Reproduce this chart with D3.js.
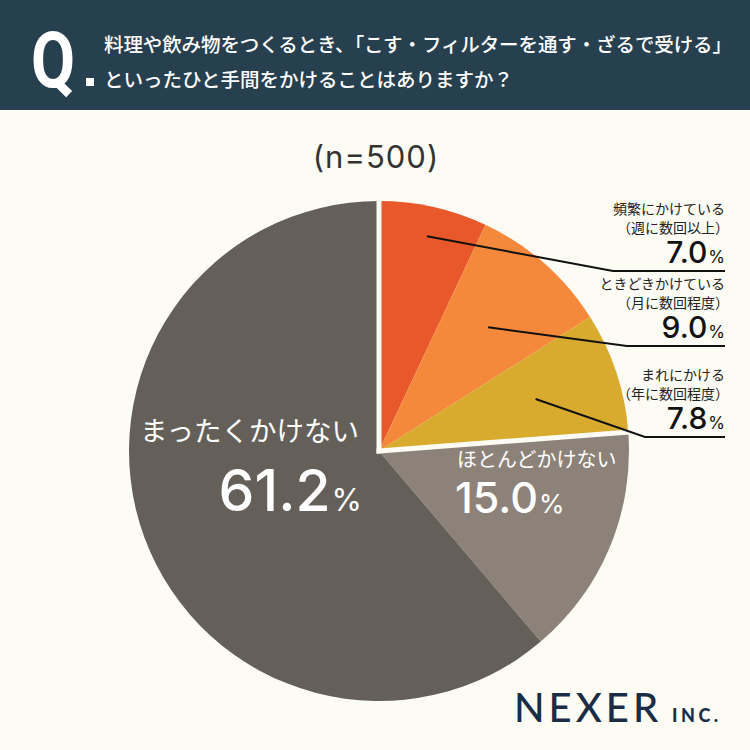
<!DOCTYPE html>
<html>
<head>
<meta charset="utf-8">
<script src="https://cdn.jsdelivr.net/npm/d3@7"></script>
<style>
  body { margin: 0; background: #fdfcf4; }
  svg { display: block; }
</style>
</head>
<body>
<div class="display"></div>
<script>
// Survey pie: how often people strain / filter when cooking

const WIDTH = 750;
const HEIGHT = 750;
const HEADER_HEIGHT = 110;
const CX = 379; // pie centre
const CY = 451;
const RADIUS = 250;

const JP_FONT = '"Noto Sans CJK JP", "Noto Sans", sans-serif';
const NUM_FONT = 'Inter, Lato, "Noto Sans", sans-serif';

// Data
const categories = ['頻繁にかけている', 'ときどきかけている', 'まれにかける', 'ほとんどかけない', 'まったくかけない'];
const subLabels = ['（週に数回以上）', '（月に数回程度）', '（年に数回程度）', '', ''];
const values = [7.0, 9.0, 7.8, 15.0, 61.2];
const colors = ['#e9582a', '#f5893b', '#d8aa2e', '#8d8279', '#645f59'];
const sampleLabel = '(n=500)';
const questionLines = ['料理や飲み物をつくるとき、「こす・フィルターを通す・ざるで受ける」', 'といったひと手間をかけることはありますか？'];

// Outside labels for the three small slices: [underline left x, underline y, leader radius factor]
const calloutLayout = [[613, 271, 0.88], [627, 346, 0.66], [645, 437, 0.66]];

let svg;

function setupSvg() {
  svg = d3.select('.display')
    .append('svg')
    .attr('width', WIDTH)
    .attr('height', HEIGHT);

  svg.append('rect')
    .attr('width', WIDTH)
    .attr('height', HEIGHT)
    .attr('fill', '#fdfcf4');
}

// Dark question band across the top
function drawHeader() {
  const header = svg.append('g');
  header.append('rect')
    .attr('width', WIDTH)
    .attr('height', HEADER_HEIGHT)
    .attr('fill', '#27404f');

  // tall, narrow "Q"
  header.append('text')
    .attr('transform', 'translate(31, 87) scale(0.82, 1)')
    .attr('font-family', 'Roboto, "Noto Sans", sans-serif')
    .attr('font-weight', 700)
    .attr('font-size', 78)
    .attr('fill', '#fff')
    .text('Q');

  header.append('rect')
    .attr('x', 86)
    .attr('y', 78)
    .attr('width', 8)
    .attr('height', 8)
    .attr('fill', '#fff');

  header.selectAll('.question')
    .data(questionLines)
    .enter()
    .append('text')
    .attr('class', 'question')
    .attr('x', 104)
    .attr('y', (d, i) => 52 + i * 35)
    .attr('font-family', JP_FONT)
    .attr('font-weight', 500)
    .attr('font-size', 19.5)
    .attr('fill', '#fff')
    .attr('textLength', (d, i) => i === 0 ? 628 : null)
    .attr('lengthAdjust', 'spacing')
    .text(d => d);
}

function drawPie() {
  const pie = d3.pie().sort(null).value(d => d);
  const arcs = pie(values);
  const arc = d3.arc().innerRadius(0).outerRadius(RADIUS);

  const g = svg.append('g').attr('transform', `translate(${CX}, ${CY})`);

  g.selectAll('.slice')
    .data(arcs)
    .enter()
    .append('path')
    .attr('class', 'slice')
    .attr('d', arc)
    .attr('fill', (d, i) => colors[i]);

  // White separators between the "does" group and the "does not" group
  const splitAngles = [0, arcs[2].endAngle];
  g.selectAll('.split')
    .data(splitAngles)
    .enter()
    .append('line')
    .attr('class', 'split')
    .attr('x1', 0)
    .attr('y1', 0)
    .attr('x2', a => Math.sin(a) * (RADIUS + 2))
    .attr('y2', a => -Math.cos(a) * (RADIUS + 2))
    .attr('stroke', '#fdfcf4')
    .attr('stroke-width', 5)
    .attr('stroke-linecap', 'square');

  return arcs;
}

function pctText(sel, value, numSize, pctSize) {
  sel.append('tspan').attr('font-size', numSize).text(value.toFixed(1));
  sel.append('tspan').attr('font-size', pctSize).attr('font-weight', 400).attr('dx', 1).text('%');
}

// Right-hand callouts with leader lines
function drawCallouts(arcs) {
  const right = 725;
  calloutLayout.forEach((c, i) => {
    const [ux, uy, rf] = c;
    const mid = (arcs[i].startAngle + arcs[i].endAngle) / 2;
    const sx = CX + Math.sin(mid) * RADIUS * rf;
    const sy = CY - Math.cos(mid) * RADIUS * rf;

    svg.append('polyline')
      .attr('points', `${sx},${sy} ${ux},${uy} ${right},${uy}`)
      .attr('fill', 'none')
      .attr('stroke', '#111')
      .attr('stroke-width', 2);

    svg.append('text')
      .attr('x', right)
      .attr('y', uy - 57)
      .attr('text-anchor', 'end')
      .attr('font-family', JP_FONT)
      .attr('font-size', 14)
      .attr('fill', '#222')
      .text(categories[i]);

    svg.append('text')
      .attr('x', right + 4)
      .attr('y', uy - 38)
      .attr('text-anchor', 'end')
      .attr('font-family', JP_FONT)
      .attr('font-size', 14)
      .attr('fill', '#222')
      .text(subLabels[i]);

    svg.append('text')
      .attr('x', right)
      .attr('y', uy - 8)
      .attr('text-anchor', 'end')
      .attr('font-family', NUM_FONT)
      .attr('font-weight', 500)
      .attr('fill', '#111')
      .call(pctText, values[i], 30, 17);
  });
}

// Labels printed inside the two big slices
function drawInnerLabels() {
  svg.append('text')
    .attr('x', 457)
    .attr('y', 467)
    .attr('font-family', JP_FONT)
    .attr('font-size', 20)
    .attr('fill', '#fff')
    .text(categories[3]);

  svg.append('text')
    .attr('x', 455)
    .attr('y', 513)
    .attr('font-family', NUM_FONT)
    .attr('font-weight', 500)
    .attr('fill', '#fff')
    .call(pctText, values[3], 43, 26);

  svg.append('text')
    .attr('x', 140)
    .attr('y', 441)
    .attr('font-family', JP_FONT)
    .attr('font-size', 27.5)
    .attr('fill', '#fff')
    .text(categories[4]);

  svg.append('text')
    .attr('x', 362)
    .attr('y', 511)
    .attr('text-anchor', 'end')
    .attr('font-family', NUM_FONT)
    .attr('font-weight', 500)
    .attr('fill', '#fff')
    .call(pctText, values[4], 57, 31);
}

function drawExtras() {
  svg.append('text')
    .attr('x', 376)
    .attr('y', 168)
    .attr('text-anchor', 'middle')
    .attr('font-family', NUM_FONT)
    .attr('font-size', 31)
    .attr('letter-spacing', 1)
    .attr('fill', '#333')
    .text(sampleLabel);

  // Company logo
  svg.append('text')
    .attr('x', 514)
    .attr('y', 722)
    .attr('font-family', 'Lato, sans-serif')
    .attr('font-weight', 500)
    .attr('font-size', 40)
    .attr('letter-spacing', 4)
    .attr('fill', '#1b2d45')
    .text('NEXER');

  svg.append('text')
    .attr('x', 672)
    .attr('y', 722)
    .attr('font-family', 'Lato, sans-serif')
    .attr('font-weight', 900)
    .attr('font-size', 18)
    .attr('letter-spacing', 3.5)
    .attr('fill', '#1b2d45')
    .text('INC.');
}

setupSvg();
drawHeader();
const arcs = drawPie();
drawCallouts(arcs);
drawInnerLabels();
drawExtras();
</script>
</body>
</html>
